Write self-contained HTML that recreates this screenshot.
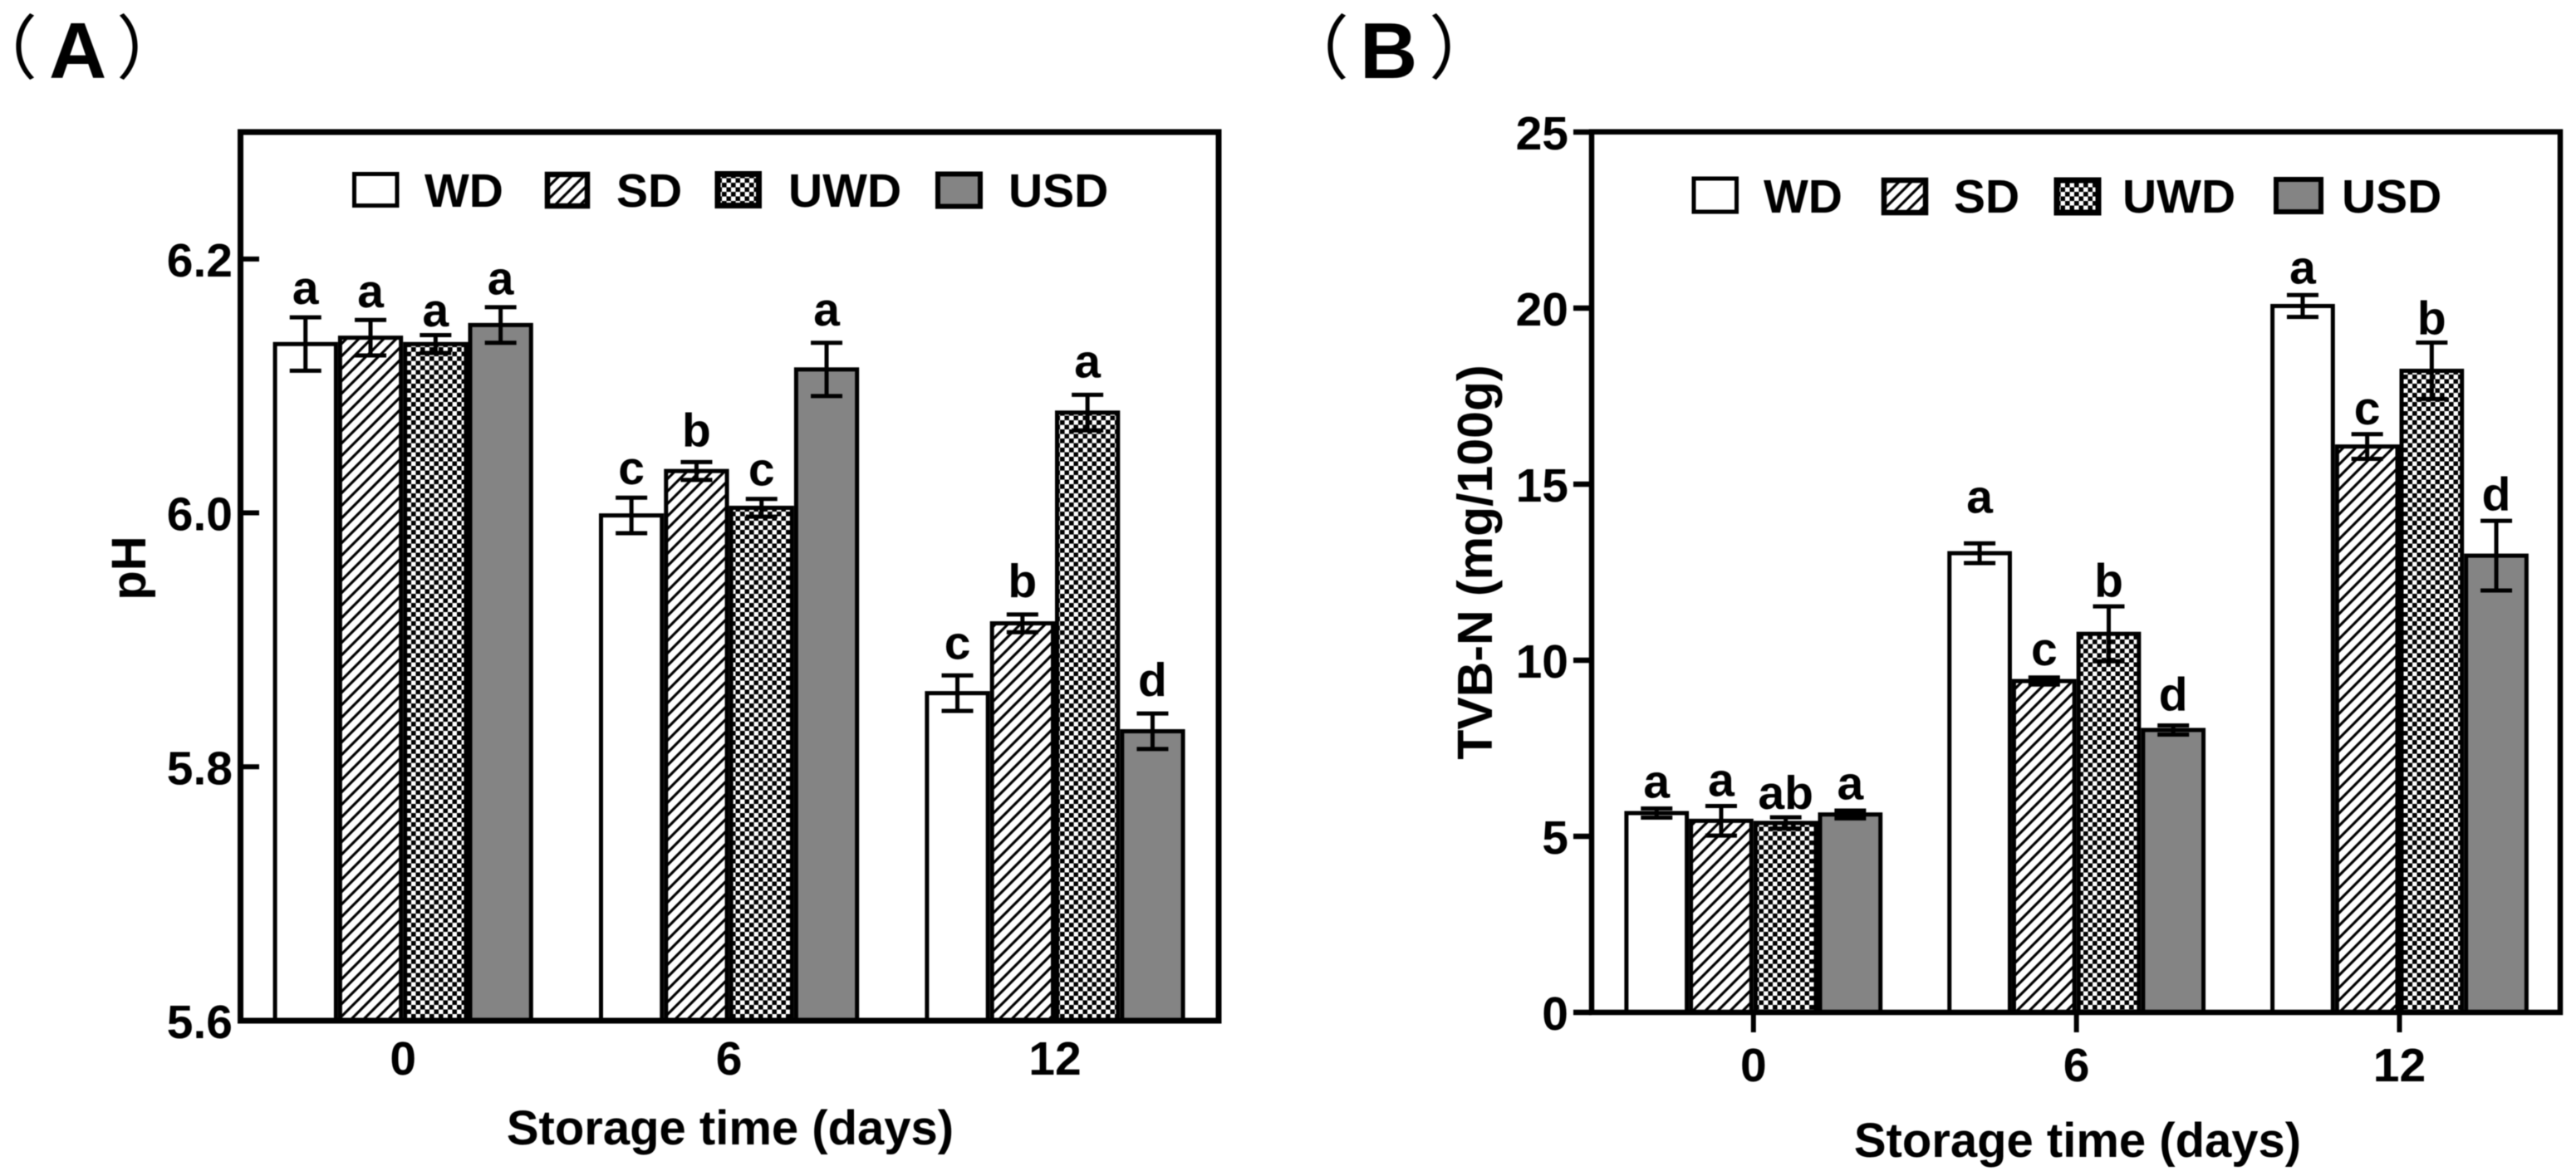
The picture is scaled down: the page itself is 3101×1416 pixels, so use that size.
<!DOCTYPE html>
<html lang="en">
<head>
<meta charset="utf-8">
<title>pH and TVB-N during storage</title>
<style>
  html, body { margin: 0; padding: 0; background: #fff; }
  svg { display: block; filter: blur(0.6px); }
  text { font-family: "Liberation Sans", "Noto Sans CJK SC", sans-serif; font-weight: 700; fill: #000; }
  .paren { font-family: "Noto Sans CJK SC", "Liberation Sans", sans-serif; font-weight: 400; font-size: 84px; }
  .panel { font-size: 96px; }
  .t { font-size: 57px; }
  .axt { font-size: 58px; }
</style>
</head>
<body>
<svg id="fig" xmlns="http://www.w3.org/2000/svg" width="3101" height="1416" viewBox="0 0 3101 1416">
  <defs>
    <pattern id="hatch" patternUnits="userSpaceOnUse" width="15" height="15">
      <rect width="15" height="15" fill="#fff"/>
      <path d="M-4 4L4 -4M0 15L15 0M11 19L19 11" stroke="#000" stroke-width="3.1" fill="none"/>
    </pattern>
    <pattern id="check" patternUnits="userSpaceOnUse" width="11" height="11">
      <rect width="11" height="11" fill="#fff"/>
      <rect x="0" y="0" width="5.6" height="5.6" fill="#000"/>
      <rect x="5.5" y="5.5" width="5.6" height="5.6" fill="#000"/>
    </pattern>
  </defs>
  <rect width="3101" height="1416" fill="#fff"/>

  <g id="panelA">
    <text class="paren" x="-39" y="88">（</text>
    <text class="panel" x="59" y="94">A</text>
    <text class="paren" x="140" y="88">）</text>
    <g id="barsA"></g>
    <rect x="289.5" y="159" width="1177.5" height="1070" fill="none" stroke="#000" stroke-width="7"/>
    <g id="axesA"></g>
    <text class="axt" x="879" y="1378" text-anchor="middle">Storage time (days)</text>
    <text class="axt" transform="translate(175 684) rotate(-90)" text-anchor="middle">pH</text>
    <g>
      <rect x="426.5" y="209.5" width="51.5" height="38" fill="#fff" stroke="#000" stroke-width="5"/>
      <text class="t" x="511" y="249">WD</text>
      <rect x="659" y="210" width="48" height="38" fill="url(#hatch)" stroke="#000" stroke-width="6.5"/>
      <text class="t" x="742" y="249">SD</text>
      <rect x="864" y="209.5" width="49.5" height="38" fill="url(#check)" stroke="#000" stroke-width="7"/>
      <text class="t" x="949" y="249">UWD</text>
      <rect x="1129" y="209.5" width="51" height="39" fill="#848484" stroke="#000" stroke-width="6"/>
      <text class="t" x="1214" y="249">USD</text>
    </g>
  </g>

  <g id="panelB">
    <text class="paren" x="1540" y="88">（</text>
    <text class="panel" x="1637" y="94">B</text>
    <text class="paren" x="1720" y="88">）</text>
    <g id="barsB"></g>
    <path d="M1916 158.7H3082V1219H1916Z" fill="none" stroke="#000" stroke-width="6.5"/>
    <g id="axesB"></g>
    <text class="axt" x="2501" y="1393" text-anchor="middle">Storage time (days)</text>
    <text transform="translate(1796 677) rotate(-90)" text-anchor="middle" font-size="59">TVB-N (mg/100g)</text>
    <g>
      <rect x="2039" y="215" width="51.5" height="40" fill="#fff" stroke="#000" stroke-width="5"/>
      <text class="t" x="2123" y="256">WD</text>
      <rect x="2268" y="217" width="50" height="39" fill="url(#hatch)" stroke="#000" stroke-width="6.5"/>
      <text class="t" x="2352" y="256">SD</text>
      <rect x="2476" y="217" width="50" height="39" fill="url(#check)" stroke="#000" stroke-width="7"/>
      <text class="t" x="2555" y="256">UWD</text>
      <rect x="2740" y="216" width="54" height="39" fill="#848484" stroke="#000" stroke-width="6"/>
      <text class="t" x="2819" y="256">USD</text>
    </g>
  </g>
</svg>
<script>
const days = ["0", "6", "12"];
const seriesNames = ["WD", "SD", "UWD", "USD"];

// Panel A: pH
const phTicks = ["5.6", "5.8", "6.0", "6.2"];
const phWD = [6.133, 5.998, 5.858];
const phSD = [6.138, 6.033, 5.913];
const phUWD = [6.133, 6.004, 6.079];
const phUSD = [6.148, 6.113, 5.828];
const phErrWD = [0.021, 0.014, 0.014];
const phErrSD = [0.014, 0.007, 0.007];
const phErrUWD = [0.007, 0.007, 0.014];
const phErrUSD = [0.014, 0.021, 0.014];
const phLettersWD = ["a", "c", "c"];
const phLettersSD = ["a", "b", "b"];
const phLettersUWD = ["a", "c", "a"];
const phLettersUSD = ["a", "a", "d"];
// height of each significance letter above its error bar, in pH units
const phLiftWD = [0.0105, 0.0105, 0.013];
const phLiftSD = [0.010, 0.0125, 0.0135];
const phLiftUWD = [0.007, 0.0105, 0.0137];
const phLiftUSD = [0.010, 0.0137, 0.0137];

// Panel B: TVB-N
const tvbTicks = ["0", "5", "10", "15", "20", "25"];
const tvbWD = [5.66, 13.04, 20.06];
const tvbSD = [5.44, 9.41, 16.07];
const tvbUWD = [5.38, 10.75, 18.22];
const tvbUSD = [5.62, 8.02, 12.97];
const tvbErrWD = [0.13, 0.28, 0.31];
const tvbErrSD = [0.42, 0.10, 0.35];
const tvbErrUWD = [0.16, 0.78, 0.80];
const tvbErrUSD = [0.11, 0.13, 0.99];
const tvbLettersWD = ["a", "a", "a"];
const tvbLettersSD = ["a", "c", "c"];
const tvbLettersUWD = ["ab", "b", "b"];
const tvbLettersUSD = ["a", "d", "d"];
// height of each significance letter above its error bar, in mg/100g
const tvbLiftWD = [0.31, 0.87, 0.33];
const tvbLiftSD = [0.28, 0.35, 0.28];
const tvbLiftUWD = [0.24, 0.28, 0.24];
const tvbLiftUSD = [0.32, 0.42, 0.30];

const NS = "http://www.w3.org/2000/svg";
function mk(parent, tag, attrs, txt) {
  const el = document.createElementNS(NS, tag);
  for (const k in attrs) el.setAttribute(k, attrs[k]);
  if (txt !== undefined) el.textContent = txt;
  parent.appendChild(el);
  return el;
}

const fills = ["#fff", "url(#hatch)", "url(#check)", "#848484"];

function drawBars(host, prefix, cfg, vals, errs, letters, lifts) {
  const step = cfg.step;
  for (let s = 0; s < seriesNames.length; s++) {
    for (let g = 0; g < days.length; g++) {
      const cx = cfg.x(g, s);
      const v = vals[s][g];
      const top = cfg.y(v), base = cfg.y(cfg.min);

      const bar = mk(host, "rect", {
        x: cx - (step - 5) / 2, y: top, width: step - 5, height: Math.max(0, base - top),
        fill: fills[s], stroke: "#000", "stroke-width": 5
      });
      
      
    }
  }
  for (let s = 0; s < seriesNames.length; s++) {
    for (let g = 0; g < days.length; g++) {
      const cx = cfg.x(g, s);
      const v = vals[s][g], e = errs[s][g];
      const yHi = cfg.y(v + e), yLo = cfg.y(v - e);

      const eb = mk(host, "path", {
        d: "M" + (cx - 19) + " " + yHi + "H" + (cx + 19) +
           "M" + cx + " " + yHi + "V" + yLo +
           "M" + (cx - 19) + " " + yLo + "H" + (cx + 19),
        fill: "none", stroke: "#000", "stroke-width": 5
      });
      
      

      const lab = mk(host, "text", {
        x: cx, y: cfg.y(v + e + lifts[s][g]), "text-anchor": "middle", "font-size": 57
      }, letters[s][g]);
      
      
    }
  }
}

// ---------- Panel A ----------
const cfgA = {
  min: 5.6, step: 78.3,
  y: function (v) { return 1229 - (v - 5.6) * 1528.6; },
  x: function (g, s) { return 485.2 + 392.4 * g + 78.3 * (s - 1.5); }
};
drawBars(document.getElementById("barsA"), "ph", cfgA,
  [phWD, phSD, phUWD, phUSD],
  [phErrWD, phErrSD, phErrUWD, phErrUSD],
  [phLettersWD, phLettersSD, phLettersUWD, phLettersUSD],
  [phLiftWD, phLiftSD, phLiftUWD, phLiftUSD]);

const axesA = document.getElementById("axesA");
phTicks.forEach(function (t) {
  const y = cfgA.y(parseFloat(t));
  const tick = mk(axesA, "line", { x1: 290, x2: 312, y1: y, y2: y, stroke: "#000", "stroke-width": 6 });
  
  
  const lab = mk(axesA, "text", { class: "t", x: 280, y: y + 21, "text-anchor": "end" }, t);
  
  
});
days.forEach(function (d, g) {
  const x = 485.2 + 392.4 * g;
  const lab = mk(axesA, "text", { class: "t", x: x, y: 1294, "text-anchor": "middle" }, d);
  
  
});

// ---------- Panel B ----------
const cfgB = {
  min: 0, step: 77.7,
  y: function (v) { return 1219 - v * 42.4; },
  x: function (g, s) { return 2110.8 + 388.85 * g + 77.7 * (s - 1.5); }
};
drawBars(document.getElementById("barsB"), "tvb", cfgB,
  [tvbWD, tvbSD, tvbUWD, tvbUSD],
  [tvbErrWD, tvbErrSD, tvbErrUWD, tvbErrUSD],
  [tvbLettersWD, tvbLettersSD, tvbLettersUWD, tvbLettersUSD],
  [tvbLiftWD, tvbLiftSD, tvbLiftUWD, tvbLiftUSD]);

const axesB = document.getElementById("axesB");
tvbTicks.forEach(function (t) {
  const y = cfgB.y(parseFloat(t));
  const tick = mk(axesB, "line", { x1: 1894, x2: 1916, y1: y, y2: y, stroke: "#000", "stroke-width": 6.5 });
  
  
  const lab = mk(axesB, "text", { class: "t", x: 1888, y: y + 21, "text-anchor": "end" }, t);
  
  
});
days.forEach(function (d, g) {
  const x = 2110.8 + 388.85 * g;
  const tick = mk(axesB, "line", { x1: x, x2: x, y1: 1219, y2: 1243, stroke: "#000", "stroke-width": 6 });
  
  
  const lab = mk(axesB, "text", { class: "t", x: x, y: 1302, "text-anchor": "middle" }, d);
  
  
});
</script>
</body>
</html>
